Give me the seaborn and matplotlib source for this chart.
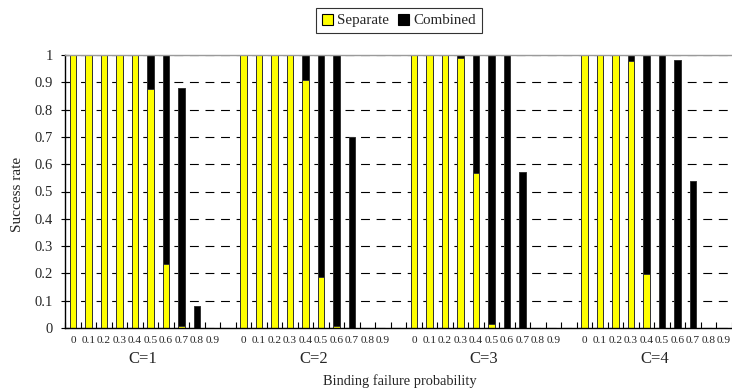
import numpy as np
import pandas as pd
import matplotlib
matplotlib.use("Agg")
import matplotlib.pyplot as plt
import matplotlib.transforms as mtransforms
from matplotlib.patches import Patch
import seaborn as sns

# Binding failure probabilities shown inside each group
probabilities = ["0", "0.1", "0.2", "0.3", "0.4", "0.5", "0.6", "0.7", "0.8", "0.9"]
groups = ["C=1", "C=2", "C=3", "C=4"]

# Success rate of the separate scheme
separate_c1 = [1, 1, 1, 1, 1, 0.876, 0.235, 0.007, 0, 0]
separate_c2 = [1, 1, 1, 1, 0.907, 0.186, 0.007, 0, 0, 0]
separate_c3 = [1, 1, 1, 0.988, 0.569, 0.013, 0, 0, 0, 0]
separate_c4 = [1, 1, 1, 0.979, 0.196, 0, 0, 0, 0, 0]

# Success rate of the combined scheme
combined_c1 = [1, 1, 1, 1, 1, 1, 1, 0.878, 0.080, 0]
combined_c2 = [1, 1, 1, 1, 1, 1, 1, 0.698, 0, 0]
combined_c3 = [1, 1, 1, 1, 1, 1, 1, 0.571, 0, 0]
combined_c4 = [1, 1, 1, 1, 1, 1, 0.982, 0.540, 0, 0]

separate = [separate_c1, separate_c2, separate_c3, separate_c4]
combined = [combined_c1, combined_c2, combined_c3, combined_c4]

slots_per_group = len(probabilities) + 1  # one empty slot between groups
n_slots = slots_per_group * len(groups)

rows = []
for g, name in enumerate(groups):
    for i, p in enumerate(probabilities):
        slot = g * slots_per_group + i
        rows.append({"slot": slot, "series": "Combined", "rate": combined[g][i]})
        rows.append({"slot": slot, "series": "Separate", "rate": separate[g][i]})
df = pd.DataFrame(rows)

sns.set_theme(style="white")
plt.rcParams["font.family"] = ["Liberation Serif", "DejaVu Serif"]

W, H = 732, 389
fig = plt.figure(figsize=(W / 100, H / 100), dpi=100)
ax_left, ax_bottom_px, ax_top_px = 65.3, 328, 55
slot_px = 15.5
ax = fig.add_axes([ax_left / W, (H - ax_bottom_px) / H,
                   n_slots * slot_px / W, (ax_bottom_px - ax_top_px) / H])

sns.barplot(data=df, x="slot", y="rate", hue="series",
            order=list(range(n_slots)), hue_order=["Combined", "Separate"],
            palette={"Combined": "#000000", "Separate": "#FFFF00"},
            dodge=False, width=0.4, saturation=1, legend=False,
            edgecolor="#333333", linewidth=0.7, ax=ax)

ax.set_xlim(-0.5, n_slots - 0.5)
ax.set_ylim(0, 1)

# dashed horizontal gridlines behind the bars
ax.set_axisbelow(True)
ax.yaxis.grid(True, color="black", linestyle=(0, (8, 6)), linewidth=0.8)
ax.xaxis.grid(False)

# y axis
yticks = np.round(np.arange(0, 1.01, 0.1), 1)
ax.set_yticks(yticks)
ax.set_yticklabels(["0" if v == 0 else ("1" if v == 1 else f"{v:g}") for v in yticks],
                   fontsize=10.5)
ax.tick_params(axis="y", direction="inout", length=6, width=0.8, color="black",
               pad=6, left=True)

# x axis: category labels at bar centres, tick marks at slot boundaries
centers = [g * slots_per_group + i for g in range(len(groups)) for i in range(len(probabilities))]
ax.set_xticks(centers)
ax.set_xticklabels(probabilities * len(groups), fontsize=8.2)
ax.tick_params(axis="x", which="major", length=0, pad=5.5)
ax.set_xticks(np.arange(-0.5, n_slots, 1), minor=True)
ax.tick_params(axis="x", which="minor", direction="in", length=4, width=0.8,
               color="black", bottom=True)
ax.set_xlabel("")
ax.set_ylabel("")

for side in ["left", "bottom"]:
    ax.spines[side].set_color("black")
    ax.spines[side].set_linewidth(1.0)
ax.spines["top"].set_color("#9a9a9a")
ax.spines["top"].set_linewidth(1.0)
ax.spines["right"].set_visible(False)

# group labels below the category labels
trans = mtransforms.blended_transform_factory(ax.transData, fig.transFigure)
for g, name in enumerate(groups):
    cx = g * slots_per_group + (len(probabilities) - 1) / 2
    ax.text(cx, 1 - 359 / H, name, transform=trans, ha="center", va="center",
            fontsize=12)

fig.text(400 / W, 1 - 381.5 / H, "Binding failure probability",
         ha="center", va="center", fontsize=10.4)
fig.text(18 / W, 1 - 194 / H, "Success rate", rotation=90,
         ha="center", va="center", fontsize=11)

handles = [Patch(facecolor="#FFFF00", edgecolor="black", linewidth=0.8, label="Separate"),
           Patch(facecolor="#000000", edgecolor="black", linewidth=0.8, label="Combined")]
leg = fig.legend(handles=handles, loc="center", bbox_to_anchor=(399 / W, 1 - 20.5 / H),
                 ncol=2, frameon=True, fancybox=False, fontsize=10.8,
                 handlelength=0.75, handleheight=0.75, handletextpad=0.25,
                 columnspacing=0.6, borderpad=0.4, borderaxespad=0)
leg.get_frame().set_edgecolor("black")
leg.get_frame().set_linewidth(0.8)

fig.savefig("out.png", dpi=100)
